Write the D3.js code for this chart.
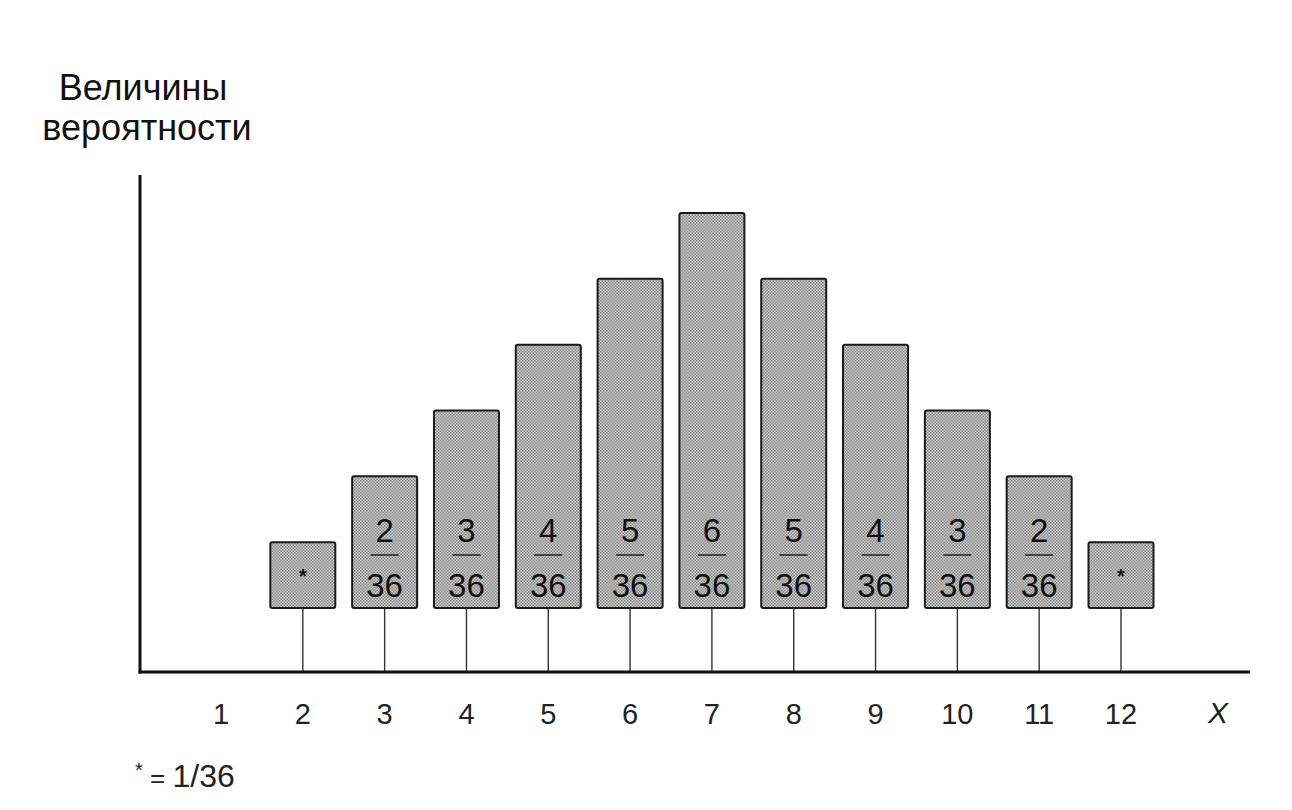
<!DOCTYPE html>
<html><head><meta charset="utf-8">
<script src="https://cdn.jsdelivr.net/npm/d3@7"></script>
<style>body{margin:0;background:#fff}svg{display:block}text{font-family:"Liberation Sans",Arial,sans-serif}</style>
</head><body>
<script>
const sums = [2,3,4,5,6,7,8,9,10,11,12];
const counts = [1,2,3,4,5,6,5,4,3,2,1];
const tickLabels = ["1","2","3","4","5","6","7","8","9","10","11","12"];
const denominator = 36;
const yTitle = ["Величины","вероятности"];
const footnote = "* = 1/36";

const W=1292,H=810;
const svg=d3.select("body").append("svg").attr("width",W).attr("height",H);
const defs=svg.append("defs");
const pat=defs.append("pattern").attr("id","ht").attr("width",3).attr("height",3).attr("patternUnits","userSpaceOnUse");
pat.append("rect").attr("width",3).attr("height",3).attr("fill","#c8c8c8");
pat.append("rect").attr("width",1.5).attr("height",1.5).attr("fill","#8c8c8c");
pat.append("rect").attr("x",1.5).attr("y",1.5).attr("width",1.5).attr("height",1.5).attr("fill","#8c8c8c");

const x=d3.scaleLinear().domain([1,12]).range([221,1121]);
const y=d3.scaleLinear().domain([0,6]).range([608,213]);
const axisY=672, axisX=140;
const bw=65;

// stems
svg.selectAll(".stem").data(sums).join("line")
 .attr("x1",d=>x(d)).attr("x2",d=>x(d)).attr("y1",y(0)).attr("y2",axisY)
 .attr("stroke","#333").attr("stroke-width",1.4);

// bars
svg.selectAll(".bar").data(sums).join("rect")
 .attr("x",d=>x(d)-bw/2).attr("width",bw)
 .attr("y",(d,i)=>y(counts[i])).attr("height",(d,i)=>y(0)-y(counts[i]))
 .attr("rx",2).attr("fill","url(#ht)").attr("stroke","#1a1a1a").attr("stroke-width",2);

// labels
sums.forEach((s,i)=>{
  const cx=x(s);
  if(counts[i]===1){
    svg.append("text").attr("x",cx).attr("y",583).attr("text-anchor","middle")
      .attr("font-size",20).attr("font-weight","bold").attr("fill","#111").text("*");
  } else {
    svg.append("text").attr("x",cx).attr("y",542).attr("text-anchor","middle")
      .attr("font-size",33).attr("fill","#111").text(counts[i]);
    svg.append("line").attr("x1",cx-14).attr("x2",cx+14).attr("y1",555).attr("y2",555)
      .attr("stroke","#222").attr("stroke-width",1.5);
    svg.append("text").attr("x",cx).attr("y",597).attr("text-anchor","middle")
      .attr("font-size",33).attr("fill","#111").text(denominator);
  }
});

// axes
svg.append("line").attr("x1",axisX).attr("x2",axisX).attr("y1",175).attr("y2",axisY+1.5)
 .attr("stroke","#111").attr("stroke-width",3);
svg.append("line").attr("x1",axisX-1.5).attr("x2",1250).attr("y1",axisY).attr("y2",axisY)
 .attr("stroke","#111").attr("stroke-width",3);

// tick labels
tickLabels.forEach((t,i)=>{
  svg.append("text").attr("x",x(i+1)).attr("y",724).attr("text-anchor","middle")
   .attr("font-size",29).attr("fill","#222").text(t);
});
svg.append("text").attr("x",1218).attr("y",723).attr("text-anchor","middle")
 .attr("font-size",30).attr("font-style","italic").attr("fill","#222").text("X");

// y title
svg.append("text").attr("x",143).attr("y",100).attr("text-anchor","middle")
 .attr("font-size",36).attr("fill","#111").text(yTitle[0]);
svg.append("text").attr("x",147).attr("y",140).attr("text-anchor","middle")
 .attr("font-size",36).attr("fill","#111").text(yTitle[1]);

// footnote
const fn=svg.append("text").attr("x",135).attr("y",787).attr("font-size",32).attr("fill","#222");
fn.append("tspan").attr("font-size",20).attr("dy",-10).text("*");
fn.append("tspan").attr("dy",10).attr("font-size",26).text(" = ");
fn.append("tspan").text("1/36");
</script>
</body></html>
